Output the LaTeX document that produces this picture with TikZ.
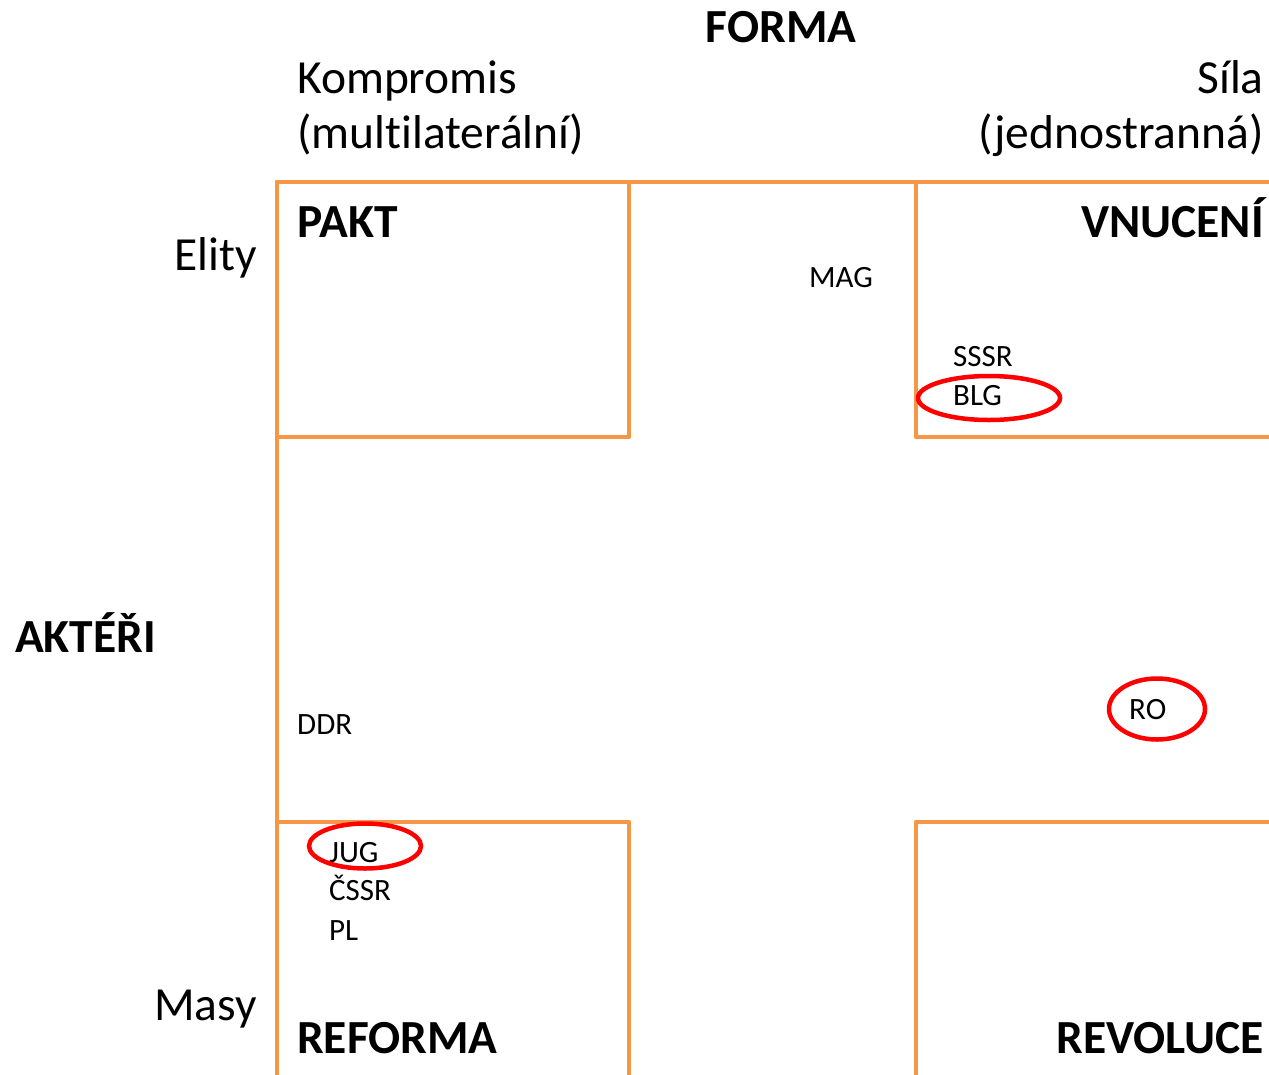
\documentclass[tikz,border=0pt]{standalone}
\usepackage{fontspec}
\setmainfont[Ligatures=CommonOff]{Carlito}
\usetikzlibrary{shapes.geometric}
\definecolor{oranzova}{HTML}{F79646}
\tikzset{
  ramec/.style={draw=oranzova,line width=4.5pt,line join=round},
  velky/.style={inner sep=0pt,font=\fontsize{47.5}{57}\selectfont},
  tucny/.style={inner sep=0pt,font=\fontsize{47.5}{57}\selectfont\bfseries},
  stat/.style={inner sep=0pt,anchor=base west,font=\fontsize{31}{37}\selectfont},
  krouzek/.style={draw=red,line width=4.5pt,ellipse,inner sep=0pt}
}
\begin{document}
\begin{tikzpicture}[x=1pt,y=-1pt]
\useasboundingbox (0,0) rectangle (1269,1074);
\draw[ramec] (277,1090) -- (277,182) -- (1290,182);
\draw[ramec] (277,182) rectangle (629,437);
\draw[ramec] (916,182) rectangle (1290,437);
\draw[ramec] (277,822) rectangle (629,1090);
\draw[ramec] (916,822) rectangle (1290,1090);

\node[tucny,anchor=base] (forma) at (781,42) {FORMA};
\node[velky,anchor=base west] (kompromis) at (297,93) {Kompromis};
\node[velky,anchor=base west] (multi) at (297,148) {(multilaterální)};
\node[velky,anchor=base east] (sila) at (1264,93) {Síla};
\node[velky,anchor=base east] (jedno) at (1264,148) {(jednostranná)};
\node[tucny,anchor=base west] (pakt) at (297,237) {PAKT};
\node[tucny,anchor=base east] (vnuceni) at (1264,237) {VNUCENÍ};
\node[tucny,anchor=base west] (reforma) at (297,1053) {REFORMA};
\node[tucny,anchor=base east] (revoluce) at (1264,1053) {REVOLUCE};
\node[velky,anchor=base east] (elity) at (257,270) {Elity};
\node[velky,anchor=base east] (masy) at (257,1020) {Masy};
\node[tucny,anchor=base west] (akteri) at (15,652) {AKTÉŘI};

\node[stat] (mag) at (809,287) {MAG};
\node[stat] (sssr) at (953,366) {SSSR};
\node[stat] (blg) at (953,405) {BLG};
\node[stat] (ddr) at (297,734) {DDR};
\node[stat] (ro) at (1129,719) {RO};
\node[stat] (jug) at (329,862) {JUG};
\node[stat] (cssr) at (329,900) {ČSSR};
\node[stat] (pl) at (329,940) {PL};

\node[krouzek,minimum width=142,minimum height=44] (kblg) at (989,398) {};
\node[krouzek,minimum width=96,minimum height=61] (kro) at (1157,709) {};
\node[krouzek,minimum width=112,minimum height=45] (kjug) at (365,846) {};
\end{tikzpicture}
\end{document}
